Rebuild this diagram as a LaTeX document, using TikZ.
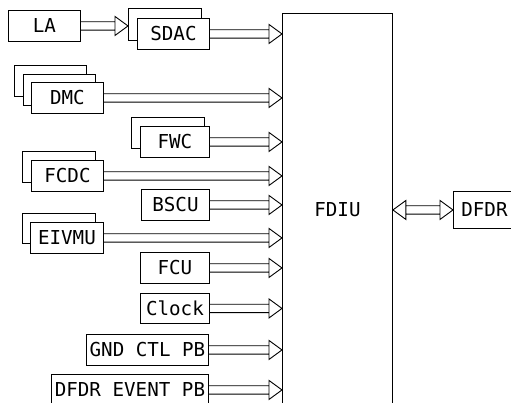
\documentclass[tikz,border=0pt]{standalone}
\usepackage{fontspec}
\setmainfont{DejaVu Sans Mono}
\usetikzlibrary{calc}
\tikzset{
  box/.style={draw, fill=white, line width=0.9pt, anchor=north west, inner sep=0pt,
    font=\fontsize{19.2}{21}\selectfont},
  conn/.style={draw, line width=0.9pt, fill=white, line join=miter},
}
\newcommand\harrow[2]{%
  \draw[conn] let \p1=(#1), \p2=(#2) in
    (\x1,\y1+4.2pt) -- (\x2-13pt,\y1+4.2pt)
    (\x1,\y1-4.2pt) -- (\x2-13pt,\y1-4.2pt)
    (\x2-13pt,\y1+9.5pt) -- (\x2,\y1) -- (\x2-13pt,\y1-9.5pt) -- cycle;}
\newcommand\dharrow[2]{%
  \draw[conn] let \p1=(#1), \p2=(#2) in
    (\x1+13pt,\y1+4.2pt) -- (\x2-13pt,\y1+4.2pt)
    (\x1+13pt,\y1-4.2pt) -- (\x2-13pt,\y1-4.2pt)
    (\x2-13pt,\y1+9.5pt) -- (\x2,\y1) -- (\x2-13pt,\y1-9.5pt) -- cycle
    (\x1+13pt,\y1+9.5pt) -- (\x1,\y1) -- (\x1+13pt,\y1-9.5pt) -- cycle;}
\begin{document}
\begin{tikzpicture}[x=1pt,y=-1pt]
\clip (0,0) rectangle (511,402);
\fill[white] (0,0) rectangle (511,402);
% central unit
\node[box, minimum width=110pt, minimum height=392pt] (fdiu) at (282,13) {FDIU};
\node[box, minimum width=62pt, minimum height=37pt] (dfdr) at (453,191) {DFDR};
% sources
\node[box, minimum width=72pt, minimum height=31pt] (la) at (8,10) {LA};
\node[box, minimum width=73pt, minimum height=32pt] (sdacB) at (128,8) {};
\node[box, minimum width=72pt, minimum height=31pt] (sdac) at (137,18) {SDAC};
\node[box, minimum width=72pt, minimum height=31pt] (dmcC) at (14,65) {};
\node[box, minimum width=72pt, minimum height=31pt] (dmcB) at (23,74) {};
\node[box, minimum width=72pt, minimum height=31pt] (dmc) at (31,82) {DMC};
\node[box, minimum width=73pt, minimum height=31pt] (fwcB) at (131,117) {};
\node[box, minimum width=69pt, minimum height=31pt] (fwc) at (140,126) {FWC};
\node[box, minimum width=73pt, minimum height=31pt] (fcdcB) at (22,151) {};
\node[box, minimum width=72pt, minimum height=31pt] (fcdc) at (31,160) {FCDC};
\node[box, minimum width=68pt, minimum height=31pt] (bscu) at (141,189) {BSCU};
\node[box, minimum width=73pt, minimum height=30pt] (eivmuB) at (22,213) {};
\node[box, minimum width=73pt, minimum height=31pt] (eivmu) at (30,222) {EIVMU};
\node[box, minimum width=69pt, minimum height=31pt] (fcu) at (140,252) {FCU};
\node[box, minimum width=69pt, minimum height=30pt] (clock) at (140,293) {Clock};
\node[box, minimum width=122pt, minimum height=31pt] (gnd) at (86,334) {GND CTL PB};
\node[box, minimum width=157pt, minimum height=31pt] (evt) at (51,374) {DFDR EVENT PB};
% connectors
\harrow{la.east}{sdacB.west |- la.east}
\harrow{sdac.east}{fdiu.west |- sdac.east}
\harrow{dmc.east}{fdiu.west |- dmc.east}
\harrow{fwc.east}{fdiu.west |- fwc.east}
\harrow{fcdc.east}{fdiu.west |- fcdc.east}
\harrow{bscu.east}{fdiu.west |- bscu.east}
\harrow{eivmu.east}{fdiu.west |- eivmu.east}
\harrow{fcu.east}{fdiu.west |- fcu.east}
\harrow{clock.east}{fdiu.west |- clock.east}
\harrow{gnd.east}{fdiu.west |- gnd.east}
\harrow{evt.east}{fdiu.west |- evt.east}
\dharrow{fdiu.east |- dfdr.west}{dfdr.west}
\end{tikzpicture}
\end{document}
